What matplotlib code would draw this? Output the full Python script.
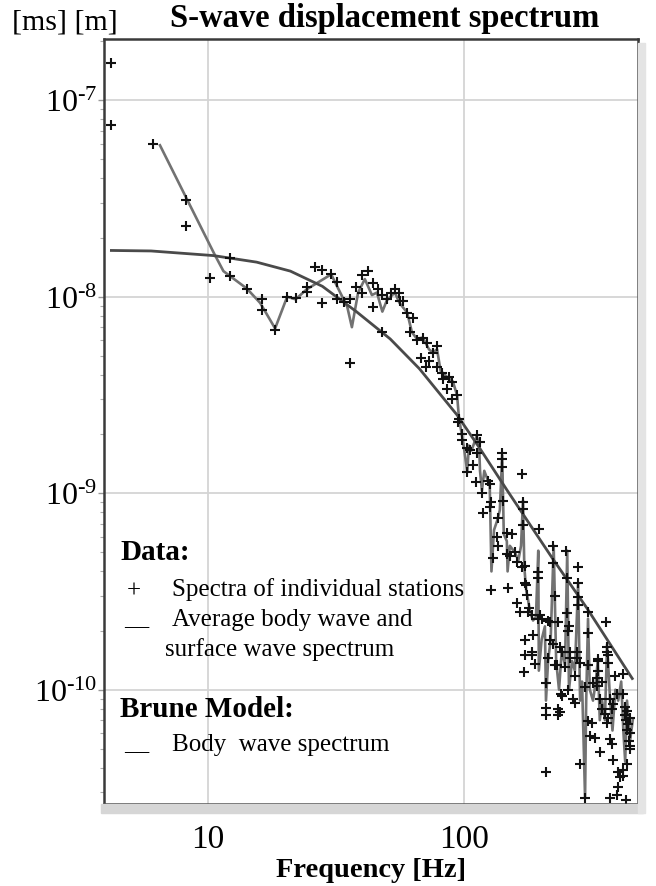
import matplotlib
matplotlib.use('Agg')
import matplotlib.pyplot as plt
from matplotlib.patches import Rectangle

plt.rcParams['font.family'] = ['Liberation Serif', 'DejaVu Serif']
plt.rcParams['mathtext.fontset'] = 'custom'
plt.rcParams['mathtext.rm'] = 'Liberation Serif'
plt.rcParams['mathtext.it'] = 'Liberation Serif:italic'
plt.rcParams['mathtext.bf'] = 'Liberation Serif:bold'

# ---------------- data ----------------
station_freq = [
    4.2, 4.2, 6.1, 8.2, 8.2, 10.2, 12.2, 12.2, 14.2, 16.3, 16.3, 18.3, 20.4, 22, 24.3, 24.3,
    26.2, 28, 30.3, 32, 28, 32, 34, 36, 36, 38, 40, 42, 40, 44.2, 46, 44.2, 48, 50, 52, 54,
    55.7, 56.5, 58, 48, 60, 63, 61.5, 65.5, 69, 71.7, 68, 71, 73, 75.7, 78.5, 78.5, 82, 82.7,
    87, 90, 86, 90, 94, 95.6, 94.6, 98, 98, 103, 105.5, 112, 115.5, 108, 103, 112,
    141, 141, 141, 168, 111, 124, 126, 117.5, 118.5, 128, 126, 136, 142, 135, 136, 130,
    147, 154, 147, 151, 158, 161, 168, 173, 170, 170, 170, 196, 128, 148, 174, 176, 161, 165,
    178, 184, 195, 195, 198, 223, 250, 223, 279, 173, 252, 279, 279, 279, 227, 253, 257, 255,
    305, 359, 305, 362, 362, 180, 195, 202, 213, 216, 233, 186, 173, 216, 223, 184, 184, 173,
    237, 241, 260, 260, 276, 276, 213, 190, 227, 248, 305, 333, 365, 365, 172, 209, 209, 209,
    209, 231, 240, 242, 233, 237, 232, 255, 266, 271, 271, 284, 297, 305, 284, 297, 305, 316,
    310, 325, 339, 333, 333, 330, 319, 330, 346, 339, 346, 355, 365, 362, 372, 382, 380, 372,
    380, 390, 419, 395, 419, 382, 400, 407, 419, 400, 395, 372, 430, 425, 433, 425, 445, 430,
    438, 433, 445, 441, 445, 445, 433, 419,
]
station_amp = [
    1.55e-7, 7.5e-8, 6.0e-8, 3.1e-8, 2.3e-8, 1.25e-8, 1.57e-8, 1.28e-8, 1.1e-8, 9.7e-9, 8.6e-9,
    6.8e-9, 1.0e-8, 9.8e-9, 1.12e-8, 1.06e-8, 1.42e-8, 1.37e-8, 1.3e-8, 1.19e-8, 9.3e-9, 9.7e-9,
    9.4e-9, 9.7e-9, 4.6e-9, 1.12e-8, 1.29e-8, 1.35e-8, 1.05e-8, 1.18e-8, 1.09e-8, 8.9e-9,
    1.02e-8, 9.7e-9, 1.05e-8, 1.09e-8, 1.05e-8, 9.5e-9, 9.5e-9, 6.6e-9, 8.3e-9, 7.8e-9, 6.6e-9,
    6.0e-9, 6.2e-9, 5.8e-9, 4.9e-9, 4.4e-9, 4.7e-9, 5.2e-9, 5.6e-9, 4.4e-9, 4.1e-9, 3.8e-9,
    3.9e-9, 3.7e-9, 3.4e-9, 3.0e-9, 3.15e-9, 2.4e-9, 2.3e-9, 2.0e-9, 1.86e-9, 1.7e-9, 1.66e-9,
    1.98e-9, 1.82e-9, 1.39e-9, 1.28e-9, 1.6e-9,
    1.6e-9, 1.5e-9, 1.36e-9, 1.26e-9, 1.14e-9, 1.15e-9, 1.11e-9, 1.0e-9, 7.9e-10, 9.0e-10,
    8.5e-10, 7.5e-10, 9.1e-10, 6.0e-10, 5.4e-10, 4.7e-10,
    6.25e-10, 6.2e-10, 4.9e-10, 4.8e-10, 5.0e-10, 4.45e-10, 4.2e-10, 4.25e-10, 9.0e-10, 8.3e-10,
    6.9e-10, 6.6e-10, 3.2e-10, 3.3e-10, 3.4e-10, 3.05e-10, 2.75e-10, 2.5e-10,
    2.5e-10, 2.4e-10, 3.95e-10, 3.7e-10, 2.4e-10, 5.4e-10, 5.1e-10, 4.4e-10, 4.2e-10, 3.5e-10,
    3.7e-10, 3.5e-10, 2.95e-10, 2.7e-10, 3.0e-10, 2.45e-10, 2.1e-10, 2.0e-10,
    2.5e-10, 2.2e-10, 1.95e-10, 1.65e-10, 1.55e-10, 2.6e-10, 2.3e-10, 2.3e-10, 2.25e-10, 2.2e-10,
    2.2e-10, 1.9e-10, 1.8e-10, 1.8e-10, 1.7e-10, 1.55e-10, 1.5e-10, 1.5e-10,
    1.65e-10, 1.55e-10, 1.55e-10, 1.45e-10, 1.55e-10, 1.45e-10, 1.45e-10, 1.35e-10, 1.33e-10,
    1.3e-10, 1.34e-10, 1.44e-10, 1.5e-10, 1.37e-10, 1.23e-10, 1.08e-10, 8.1e-11, 7.4e-11,
    3.8e-11, 1.33e-10, 9.5e-11, 9.3e-11, 8.0e-11, 7.7e-11, 7.4e-11, 1.0e-10, 9.0e-11, 8.6e-11,
    1.18e-10, 1.37e-10, 1.03e-10, 1.33e-10, 4.2e-11, 2.8e-11, 6.9e-11, 6.8e-11,
    5.8e-11, 5.7e-11, 4.8e-11, 1.4e-10, 1.25e-10, 1.15e-10, 1.08e-10, 1.05e-10, 1.1e-10, 9.0e-11,
    8.0e-11, 7.5e-11, 7.2e-11, 6.8e-11, 9.0e-11, 8.5e-11, 8.0e-11, 5.6e-11,
    5.3e-11, 1.18e-10, 1.2e-10, 9.5e-11, 9.5e-11, 4.4e-11, 3.8e-11, 3.6e-11, 3.65e-11, 3.2e-11,
    2.9e-11, 2.8e-11, 2.75e-11, 8.2e-11, 7.8e-11, 7.4e-11, 7.2e-11, 7.0e-11,
    6.7e-11, 6.2e-11, 6.0e-11, 5.5e-11, 5.2e-11, 5.0e-11, 4.2e-11, 3.9e-11,
]

average_freq = [
    6.5, 10.6, 11.5, 14.2, 16, 18.3, 20.4, 22, 24.3, 30.3, 35, 36.5, 38.6, 41, 43.7, 45.7, 48,
    50, 53.7, 56, 60, 62.6, 65.5, 69, 73, 75.5, 78.5, 81, 86, 90.5, 94, 95.6, 98, 100, 103,
    104.5, 107, 112, 114.5, 115.5, 117.5, 120, 124, 126, 128, 131, 135, 138, 141, 143, 147,
    148, 151, 158, 163, 167, 170, 172, 175, 178, 181, 186, 191, 195, 196, 201, 207, 209, 213,
    218, 224, 229, 235, 241, 248, 253, 257, 264, 271, 279, 284, 289, 297, 300, 305, 310, 319,
    327, 333, 339, 346, 355, 362, 372, 380, 390, 400, 411, 419, 426, 433, 445, 456,
]
average_amp = [
    5.9e-8, 1.65e-8, 1.35e-8, 1.1e-8, 9.3e-9, 6.9e-9, 1.0e-8, 9.7e-9, 1.09e-8, 1.3e-8, 8.9e-9,
    7.0e-9, 1.05e-8, 1.23e-8, 1.02e-8, 1.05e-8, 8.4e-9, 9.6e-9, 1.05e-8, 9.3e-9, 8.3e-9, 6.6e-9,
    6.1e-9, 6.2e-9, 5.4e-9, 5.2e-9, 5.4e-9, 4.2e-9, 3.9e-9, 3.7e-9, 3.15e-9, 2.4e-9, 2.0e-9,
    1.7e-9, 1.28e-9, 1.75e-9, 1.65e-9, 1.95e-9, 1.8e-9, 1.3e-9, 1.03e-9, 1.3e-9, 1.16e-9,
    1.12e-9, 4.0e-10, 6.5e-10, 7.3e-10, 8.2e-10, 1.56e-9, 6.2e-10, 5.7e-10, 4.0e-10, 5.4e-10,
    5.0e-10, 4.55e-10, 5.4e-10, 9.2e-10, 4.2e-10, 3.2e-10, 2.85e-10, 2.5e-10, 2.25e-10, 2.35e-10,
    5.1e-10, 1.25e-10, 1.8e-10, 2.1e-10, 8.8e-11, 1.4e-10, 1.8e-10, 5.4e-10, 1.4e-10, 1.0e-10,
    1.6e-10, 1.33e-10, 5.1e-10, 1.0e-10, 1.4e-10, 1.25e-10, 3.5e-10, 8.8e-11, 1.1e-10, 2.8e-11,
    8.8e-11, 2.3e-10, 1.0e-10, 8.8e-11, 1.1e-10, 1.4e-10, 7.0e-11, 8.8e-11, 7.0e-11, 1.7e-10,
    8.8e-11, 6.2e-11, 1.0e-10, 8.8e-11, 1.1e-10, 6.2e-11, 4.3e-11, 8.8e-11, 5.5e-11, 7.0e-11,
]

brune_freq = [4.2, 6, 10.5, 15.5, 21, 28, 38, 51.5, 67, 94, 115, 147, 223, 302, 454]
brune_amp = [1.72e-8, 1.71e-8, 1.62e-8, 1.5e-8, 1.35e-8, 1.13e-8, 8.4e-9, 6.1e-9, 4.3e-9,
             2.5e-9, 1.7e-9, 1.04e-9, 4.6e-10, 2.6e-10, 1.14e-10]

x_ticks = [10, 100]
x_tick_labels = ['10', '100']
y_ticks = [1e-10, 1e-9, 1e-8, 1e-7]
y_tick_labels = ['$10^{\\text{-}10}$', '$10^{\\text{-}9}$', '$10^{\\text{-}8}$', '$10^{\\text{-}7}$']

# ---------------- figure ----------------
W, H = 656, 887
fig = plt.figure(figsize=(W / 100, H / 100), dpi=100)
L, R, T, B = 104, 638, 40, 805
ax = fig.add_axes([L / W, 1 - B / H, (R - L) / W, (B - T) / H])

# light grey strips around the bottom and right of the frame
fig.patches.append(Rectangle((L / W - 0.004, 1 - 814 / H), (R - L + 8) / W, 9 / H,
                             transform=fig.transFigure, color='#d6d6d6', zorder=0))
fig.patches.append(Rectangle((R / W, 1 - 814 / H), 7 / W, (814 - T - 4) / H,
                             transform=fig.transFigure, color='#e4e4e4', zorder=0))

ax.set_xscale('log')
ax.set_yscale('log')
ax.set_xlim(3.93, 478)
ax.set_ylim(2.62e-11, 2.05e-7)

ax.grid(True, which='major', color='#d4d4d4', linewidth=1.3)
ax.set_axisbelow(True)

ax.plot(average_freq, average_amp, color='#727272', linewidth=1.9, zorder=2)
ax.plot(brune_freq, brune_amp, color='#4a4a4a', linewidth=2.0, zorder=3)
ax.plot(station_freq, station_amp, linestyle='none', marker='+', markersize=7,
        markeredgewidth=1.5, color='#111111', zorder=4)

for side in ['left', 'top', 'right', 'bottom']:
    ax.spines[side].set_color('#3a3a3a')
    ax.spines[side].set_linewidth(1.8)

ax.set_xticks(x_ticks)
ax.set_xticklabels(x_tick_labels)
ax.set_yticks(y_ticks)
ax.set_yticklabels(y_tick_labels)
ax.tick_params(axis='x', which='major', direction='out', length=6, width=1.2,
               color='#333333', labelsize=24, pad=8)
ax.tick_params(axis='x', which='minor', direction='out', length=4, width=1.0,
               color='#333333', labelbottom=False)
ax.tick_params(axis='y', which='major', direction='out', length=4, width=1.0,
               color='#999999', labelsize=23, pad=1)
ax.tick_params(axis='y', which='minor', direction='out', length=3, width=0.8,
               color='#aaaaaa', labelleft=False)

ax.set_xlabel('Frequency [Hz]', fontsize=20.5, fontweight='bold', labelpad=2)
fig.text(385 / W, 1 - 18 / H, 'S-wave displacement spectrum', fontsize=23.5,
         fontweight='bold', ha='center', va='center')
fig.text(12 / W, 1 - 22 / H, '[ms] [m]', fontsize=21.5, ha='left', va='center')

# in-plot legend text
def ty(py):
    return (B - py) / (B - T)

def tx(px):
    return (px - L) / (R - L)

ax.text(tx(120), ty(553), 'Data:', transform=ax.transAxes, fontsize=21,
        fontweight='bold', va='center', ha='left')
ax.text(tx(127), ty(592), '+', transform=ax.transAxes, fontsize=18, va='center', ha='left')
ax.text(tx(172), ty(590), 'Spectra of individual stations', transform=ax.transAxes,
        fontsize=18, va='center', ha='left')
ax.text(tx(124), ty(618), '__', transform=ax.transAxes, fontsize=18, va='center', ha='left')
ax.text(tx(172), ty(620), 'Average body wave and', transform=ax.transAxes,
        fontsize=18, va='center', ha='left')
ax.text(tx(165), ty(650), 'surface wave spectrum', transform=ax.transAxes,
        fontsize=18, va='center', ha='left')
ax.text(tx(120), ty(710), 'Brune Model:', transform=ax.transAxes, fontsize=21,
        fontweight='bold', va='center', ha='left')
ax.text(tx(124), ty(743), '__', transform=ax.transAxes, fontsize=18, va='center', ha='left')
ax.text(tx(172), ty(745), 'Body  wave spectrum', transform=ax.transAxes,
        fontsize=18, va='center', ha='left')

fig.savefig('out.png', dpi=100)
